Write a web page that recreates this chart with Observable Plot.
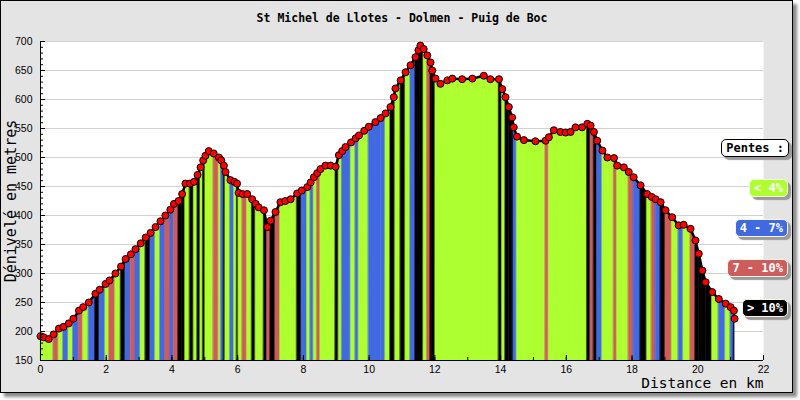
<!DOCTYPE html>
<html><head><meta charset="utf-8">
<script src="https://cdn.jsdelivr.net/npm/d3@7"></script>
<script src="https://cdn.jsdelivr.net/npm/@observablehq/plot@0.6"></script>
<style>
body{margin:0;background:#fff;}
#wrap{position:relative;width:800px;height:400px;overflow:hidden;}
#frame{position:absolute;left:0;top:0;width:793px;height:393px;box-sizing:border-box;border:1px solid #000;background:#e4e4e4;box-shadow:4px 4px 3px #8a8a8a;}
#chart{position:absolute;left:0;top:0;}
.lg{position:absolute;right:12px;height:18px;box-sizing:border-box;border-radius:5px;font:bold 12px "DejaVu Sans Mono",monospace;line-height:16px;padding:0 4px;color:#fff;border:1px solid #fbf6e0;box-shadow:3px 3px 1px #9a9a9a;white-space:pre;}
</style></head><body>
<div id="wrap"><div id="frame"></div><div id="chart"></div></div>
<script>
const title = "St Michel de Llotes - Dolmen - Puig de Boc";
const yTitle = "Dénivelé en metres";
const xTitle = "Distance en km";
const legendTitle = "Pentes :";

const distanceKm = [0.00,0.10,0.25,0.40,0.56,0.70,0.86,1.00,1.17,1.30,1.47,1.67,1.80,1.98,2.10,2.28,2.45,2.59,2.75,2.89,
 3.05,3.20,3.35,3.50,3.65,3.80,3.95,4.06,4.20,4.31,4.41,4.55,4.67,4.78,4.87,4.95,5.02,5.12,5.27,5.43,
 5.50,5.58,5.63,5.78,5.90,5.98,6.03,6.15,6.29,6.44,6.55,6.64,6.80,6.90,7.00,7.15,7.30,7.45,7.61,7.81,
 7.95,8.12,8.22,8.32,8.42,8.52,8.67,8.83,8.98,9.08,9.18,9.28,9.45,9.59,9.69,9.85,9.99,10.19,10.35,10.50,
 10.65,10.75,10.80,10.96,11.11,11.26,11.41,11.50,11.56,11.66,11.77,11.87,11.92,12.02,12.17,12.38,12.53,12.83,13.14,13.49,
 13.69,13.95,14.05,14.15,14.25,14.35,14.40,14.50,14.71,15.06,15.37,15.47,15.62,15.82,15.98,16.13,16.28,16.48,16.64,16.74,
 16.84,16.94,17.10,17.25,17.45,17.55,17.75,17.90,18.05,18.26,18.46,18.60,18.72,18.87,19.02,19.22,19.42,19.57,19.78,19.93,
 20.03,20.14,20.24,20.44,20.64,20.85,21.00,21.10,21.12];
const altitudeM = [192,190,187,195,205,208,214,222,236,242,250,265,272,282,288,300,312,325,333,342,
 352,362,370,380,390,400,410,420,425,437,455,455,458,470,483,495,503,511,507,500,
 495,486,475,461,458,455,439,437,437,428,420,414,409,380,391,406,423,425,428,438,
 443,449,457,466,473,480,486,486,484,504,511,518,526,533,538,546,553,561,568,576,
 587,604,619,633,647,659,673,685,693,687,676,664,650,636,627,633,636,635,636,641,
 635,635,618,604,587,569,552,536,530,528,529,535,547,544,543,544,552,552,558,555,
 544,529,512,500,499,486,483,475,466,452,437,432,428,423,409,397,383,384,377,357,
 334,305,285,268,256,248,242,236,222];
// slope class of each segment: g = <4%, b = 4-7%, r = 7-10%, k = >10%
const segmentClass =
 "gggrgbgbrg" + "bkbgrgkbrb" + "gkbgbrbrkk" + "gkgkgkggrg" + "bkgbgkgrgk" +
 "ggkrkrgggk" + "bgbgrgggkg" + "bbgbggbbbg" + "kkgkgbkkkg" + "rkkggggggg" +
 "gkgkkkbggg" + "rgggggggkr" + "kbggrggrbk" + "grbkrgbgrk" + "kkkgbgbk";
const slopeCodes = ["g","b","r","k"];
const slopeClasses = ["< 4%","4 - 7%","7 - 10%","> 10%"];
const slopeColors = ["#adff2f","#4169e1","#cd5c5c","#000000"];
const yTicks = d3.range(150, 701, 50);
const yMinor = d3.range(150, 701, 10);
const xTicks = d3.range(0, 23, 2);
const xMinor = d3.range(0, 23, 1);

const points = distanceKm.map((d, i) => ({km: d, alt: altitudeM[i]}));
const segRows = [];
for (let i = 0; i < points.length - 1; i++) {
  const cat = slopeClasses[slopeCodes.indexOf(segmentClass[i])];
  segRows.push({seg: i, km: points[i].km, alt: points[i].alt, cat});
  segRows.push({seg: i, km: points[i+1].km, alt: points[i+1].alt, cat});
}

const mono = "'DejaVu Sans Mono', monospace";
const chart = Plot.plot({
  width: 800, height: 400,
  marginLeft: 40, marginRight: 37, marginTop: 41, marginBottom: 40,
  style: {background: "transparent", fontFamily: "'Liberation Sans', sans-serif", fontSize: "10.5px", color: "#000"},
  x: {domain: [0, 22]},
  y: {domain: [150, 700]},
  color: {domain: slopeClasses, range: slopeColors},
  marks: [
    Plot.frame({fill: "white", stroke: null}),
    Plot.gridY({ticks: yTicks.slice(1), stroke: "#d2d2d2", strokeOpacity: 1}),
    Plot.areaY(segRows, {x: "km", y1: 150, y2: "alt", z: "seg", fill: "cat", stroke: "cat", strokeWidth: 0.6}),
    Plot.line(points, {x: "km", y: "alt", stroke: "#000", strokeWidth: 2.5}),
    Plot.dot(points, {x: "km", y: "alt", r: 3.5, fill: "#ff0000", stroke: "#000", strokeWidth: 1}),
    Plot.ruleX([0], {stroke: "#000"}),
    Plot.ruleY([150], {stroke: "#000"}),
    Plot.axisY({ticks: yMinor, tickSize: -3, tickFormat: () => "", label: null}),
    Plot.axisY({ticks: yTicks, tickSize: -5, tickFormat: () => "", label: null}),
    Plot.axisY({ticks: yTicks, tickSize: 0, tickPadding: 8, label: null}),
    Plot.axisX({ticks: xMinor, tickSize: -3, tickFormat: () => "", label: null}),
    Plot.axisX({ticks: xTicks, tickSize: -5, tickFormat: () => "", label: null}),
    Plot.axisX({ticks: xTicks, tickSize: 0, tickPadding: 5, label: null}),
    Plot.text([title], {text: d => d, frameAnchor: "top", dy: -28, fontFamily: mono, fontWeight: "bold", fontSize: 11.5}),
    Plot.text([yTitle], {text: d => d, frameAnchor: "left", textAnchor: "middle", rotate: -90, dx: -29, fontFamily: mono, fontSize: 15}),
    Plot.text([xTitle], {text: d => d, frameAnchor: "bottom-right", textAnchor: "end", dy: 27, fontFamily: mono, fontSize: 14.5})
  ]
});
document.getElementById("chart").appendChild(chart);

const wrap = document.getElementById("wrap");
const head = document.createElement("div");
head.className = "lg";
head.textContent = legendTitle;
Object.assign(head.style, {top: "139px", background: "#fff", color: "#000", border: "1.5px solid #000", right: "11px"});
wrap.appendChild(head);
slopeClasses.forEach((c, i) => {
  const el = document.createElement("div");
  el.className = "lg";
  el.textContent = c;
  el.style.top = (179 + 40 * i) + "px";
  el.style.background = slopeColors[i];
  wrap.appendChild(el);
});
</script>
</body></html>
